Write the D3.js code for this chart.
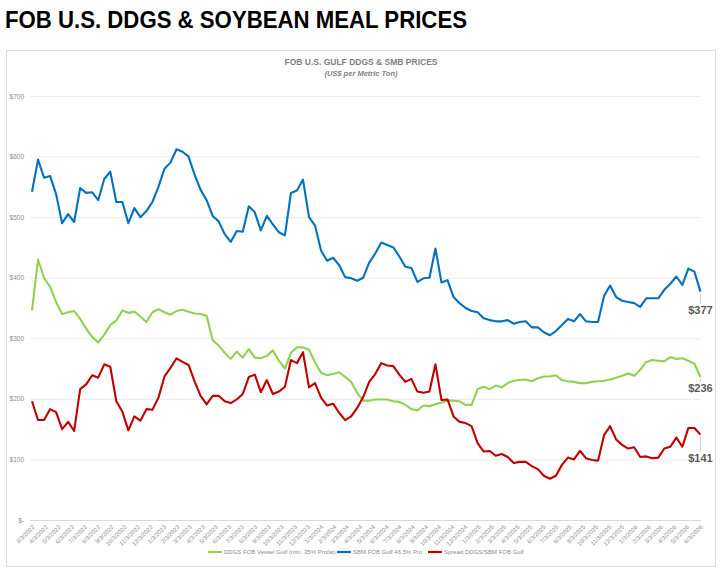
<!DOCTYPE html>
<html>
<head>
<meta charset="utf-8">
<script src="https://cdn.jsdelivr.net/npm/d3@7"></script>
<style>
body { margin: 0; background: #fff; font-family: "Liberation Sans", Arial, sans-serif; }
</style>
</head>
<body>
<script>
// biweekly readings from 3/3/2022, US$ per metric ton
var sbm = [542, 595, 565, 568, 538, 490, 505, 492, 548, 540,
  541, 528, 563, 575, 525, 525, 490, 515, 500, 510,
  525, 550, 580, 590, 612, 608, 600, 570, 545, 528,
  502, 493, 472, 459, 477, 476, 518, 508, 478, 502,
  488, 475, 470, 540, 544, 562, 500, 486, 445, 428,
  433, 421, 401, 399, 395, 400, 425, 440, 458, 454,
  450, 435, 418, 416, 393, 399, 400, 448, 392, 396,
  368, 358, 350, 345, 343, 333, 330, 328, 328, 330,
  324, 327, 328, 318, 318, 310, 305, 312, 322, 332,
  328, 340, 328, 327, 327, 370, 387, 368, 362, 360,
  358, 352, 366, 366, 366, 380, 390, 402, 388, 415,
  410, 377];
var ddgs = [346, 430, 400, 385, 360, 340, 343, 345, 332, 316,
  302, 293, 306, 322, 329, 346, 342, 344, 336, 327,
  343, 348, 343, 339, 345, 347, 344, 341, 340, 337,
  297, 288, 276, 266, 278, 268, 282, 268, 267, 271,
  280, 263, 250, 276, 285, 285, 281, 260, 243, 239,
  241, 244, 236, 228, 210, 197, 197, 199, 199, 199,
  196, 195, 190, 183, 181, 189, 188, 191, 194, 197,
  197, 196, 190, 190, 216, 220, 216, 222, 219, 226,
  230, 231, 232, 229, 234, 237, 237, 239, 231, 229,
  228, 226, 226, 228, 229, 230, 232, 235, 238, 242,
  238, 248, 261, 264, 263, 262, 269, 266, 267, 263,
  258, 236];
var spread = [196, 165, 165, 183, 178, 150, 162, 147, 216, 224,
  239, 235, 257, 253, 196, 179, 148, 171, 164, 183,
  182, 202, 237, 251, 267, 261, 256, 229, 205, 191,
  205, 205, 196, 193, 199, 208, 236, 240, 211, 231,
  208, 212, 220, 264, 259, 277, 219, 226, 202, 189,
  192, 177, 165, 171, 185, 203, 228, 241, 259, 255,
  254, 240, 228, 233, 212, 210, 212, 257, 198, 199,
  171, 162, 160, 155, 127, 113, 114, 106, 109, 104,
  94, 96, 96, 89, 84, 73, 68, 73, 91, 103,
  100, 114, 102, 99, 98, 140, 155, 133, 124, 118,
  120, 104, 105, 102, 103, 118, 121, 136, 121, 152,
  152, 141];
var seriesNames = ["DDGS FOB Vessel Gulf (min. 35% Profat)", "SBM FOB Gulf 46.5% Pro", "Spread DDGS/SBM FOB Gulf"];
var yTicks = [0, 100, 200, 300, 400, 500, 600, 700];

var startDate = new Date(2022, 2, 3),
    endDate = new Date(2026, 5, 3);
var dates = sbm.map(function(d, i) { return d3.timeDay.offset(startDate, 14 * i); });
var monthTicks = d3.timeMonth.range(new Date(2022, 2, 1), new Date(2026, 6, 1))
    .map(function(d) { return new Date(d.getFullYear(), d.getMonth(), 3); });

var colors = ["#92d050", "#0070c0", "#c00000"];
var series = [ddgs, sbm, spread];

var svg = d3.select("body").append("svg")
    .attr("width", 720)
    .attr("height", 577);

// page title, squeezed to the narrow width of the original
svg.append("text")
    .attr("x", 5)
    .attr("y", 28)
    .attr("textLength", 462)
    .attr("lengthAdjust", "spacingAndGlyphs")
    .style("font-family", "'Liberation Sans', Arial, sans-serif")
    .style("font-weight", "bold")
    .style("font-size", "24px")
    .attr("fill", "#000")
    .text("FOB U.S. DDGS & SOYBEAN MEAL PRICES");

// chart frame
svg.append("rect")
    .attr("x", 6.5).attr("y", 50.5)
    .attr("width", 709).attr("height", 516)
    .attr("fill", "#fff")
    .attr("stroke", "#d9d9d9");

svg.append("text")
    .attr("x", 361).attr("y", 65)
    .attr("text-anchor", "middle")
    .style("font-size", "8.5px").style("font-weight", "bold")
    .attr("fill", "#7f7f7f")
    .text("FOB U.S. GULF DDGS & SMB PRICES");
svg.append("text")
    .attr("x", 361).attr("y", 76)
    .attr("text-anchor", "middle")
    .style("font-size", "7.5px").style("font-style", "italic").style("font-weight", "bold")
    .attr("fill", "#7f7f7f")
    .text("(US$ per Metric Ton)");

var x = d3.scaleTime().domain([startDate, endDate]).range([32, 700]);
var y = d3.scaleLinear().domain([0, 700]).range([520, 96]);

// gridlines
svg.append("g").selectAll("line")
    .data(yTicks)
    .enter().append("line")
    .attr("x1", 30).attr("x2", 701)
    .attr("y1", function(d) { return y(d) + 0.5; })
    .attr("y2", function(d) { return y(d) + 0.5; })
    .attr("stroke", function(d) { return d === 0 ? "#d9d9d9" : "#ebebeb"; })
    .attr("stroke-width", 1);

var yAxis = d3.axisLeft(y)
    .tickValues(yTicks)
    .tickSize(0)
    .tickPadding(6)
    .tickFormat(function(d) { return d === 0 ? "$-" : "$" + d; });
var gy = svg.append("g").attr("transform", "translate(30,0)").call(yAxis);
gy.select(".domain").remove();
gy.selectAll("text").style("font-size", "6.5px").attr("fill", "#8c8c8c").style("font-family", "'Liberation Sans', Arial, sans-serif");

var xAxis = d3.axisBottom(x)
    .tickValues(monthTicks)
    .tickSize(0)
    .tickFormat(d3.timeFormat("%-m/%-d/%Y"));
var gx = svg.append("g").attr("transform", "translate(0,520)").call(xAxis);
gx.select(".domain").remove();
gx.selectAll("text")
    .attr("x", 0).attr("y", 0).attr("dy", "0.35em")
    .attr("transform", "translate(1,6) rotate(-45)")
    .style("text-anchor", "end")
    .style("font-size", "6px")
    .style("font-family", "'Liberation Sans', Arial, sans-serif")
    .attr("fill", "#8c8c8c");

var line = d3.line()
    .x(function(d, i) { return x(dates[i]); })
    .y(function(d) { return y(d); });

series.forEach(function(s, k) {
    svg.append("path")
        .datum(s)
        .attr("fill", "none")
        .attr("stroke", colors[k])
        .attr("stroke-width", 2.1)
        .attr("stroke-linejoin", "round")
        .attr("d", line);
});

// end labels (ddgs, sbm, spread), each nudged below its last point
var labelDy = [15, 22, 27];
series.forEach(function(s, k) {
    var last = s.length - 1,
        lx = x(dates[last]),
        ly = y(s[last]);
    svg.append("line")
        .attr("x1", lx).attr("y1", ly + 2)
        .attr("x2", lx).attr("y2", ly + labelDy[k] - 10)
        .attr("stroke", "#bfbfbf").attr("stroke-width", 0.8);
    svg.append("text")
        .attr("x", lx).attr("y", ly + labelDy[k])
        .attr("text-anchor", "middle")
        .style("font-size", "11px").style("font-weight", "bold")
        .style("font-family", "'Liberation Sans', Arial, sans-serif")
        .attr("fill", "#595959")
        .text("$" + s[last]);
});

// legend
var legendX = [208, 337, 428];
var legend = svg.append("g").attr("transform", "translate(0,552)");
seriesNames.forEach(function(name, k) {
    legend.append("line")
        .attr("x1", legendX[k]).attr("x2", legendX[k] + 14)
        .attr("stroke", colors[k]).attr("stroke-width", 2.2);
    legend.append("text")
        .attr("x", legendX[k] + 16).attr("dy", "0.35em")
        .style("font-size", "6px")
        .attr("fill", "#8c8c8c")
        .text(name);
});
</script>
</body>
</html>
